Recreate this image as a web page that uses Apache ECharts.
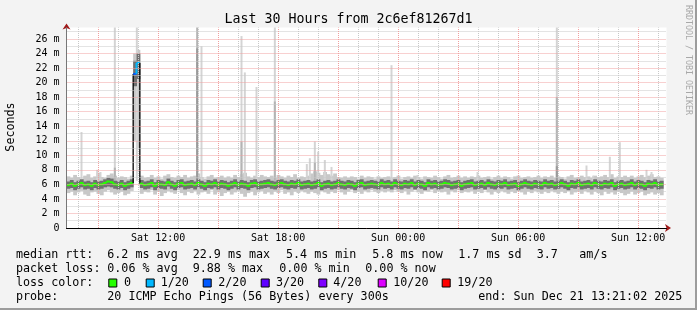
<!DOCTYPE html>
<html><head><meta charset="utf-8">
<script src="https://cdn.jsdelivr.net/npm/echarts@6/dist/echarts.min.js"></script>
<style>html,body{margin:0;padding:0;background:#f3f3f3}#c{width:697px;height:310px}</style>
</head><body><div id="c"></div>
<script>
// ---------- DATA ----------
const START_HOUR = 7 + 25 / 60;   // Sat 07:25 (hours since Sat 00:00)
const STEP_HOUR = 1 / 6;          // 10-minute steps
const SPAN_HOURS = 30;

const medianRtt = [
 5.9,6.1,5.8,6.0,6.2,5.9,6.0,5.8,6.1,5.9,6.0,6.2,
 6.4,6.3,6.0,5.9,6.1,5.8,6.0,6.2,21.2,22.7,6.1,5.9,
 6.0,6.2,5.8,6.1,6.0,5.9,6.3,6.0,5.8,6.1,6.2,5.9,
 6.0,6.1,5.9,6.2,6.0,5.8,6.1,6.0,6.2,5.9,6.1,6.0,
 5.8,6.0,6.2,5.9,6.1,6.0,5.8,6.1,6.2,5.9,6.0,6.1,
 6.2,6.0,5.9,6.1,6.2,6.0,5.9,6.1,6.0,6.2,5.9,6.0,
 6.1,5.9,6.0,6.2,5.8,6.0,6.1,5.9,6.0,6.2,6.0,5.9,
 6.1,6.0,5.8,6.1,6.2,5.9,6.0,6.1,6.0,5.9,6.2,6.0,
 6.1,5.9,6.2,6.0,5.9,6.1,6.0,6.2,5.9,6.1,6.0,5.8,
 6.2,6.0,6.1,5.9,6.0,6.2,6.1,5.9,6.0,6.1,5.8,6.0,
 6.1,6.2,5.9,6.0,6.1,5.9,6.2,6.0,5.9,6.1,6.0,6.2,
 5.9,6.0,6.1,5.8,6.0,6.2,6.0,5.9,6.1,6.0,5.9,6.2,
 6.0,6.1,5.9,6.0,6.2,6.0,5.8,6.1,6.0,6.2,5.9,6.0,
 6.1,5.9,6.2,6.0,5.9,6.1,6.0,6.2,5.8,6.0,6.1,5.9,
 6.0,6.2,5.9,6.1,6.0,5.8,6.1,6.0,6.2,5.9,6.0
];
const lightLo = [
 4.8,5.0,4.5,4.9,5.1,4.6,4.4,4.9,5.0,4.7,4.5,5.0,
 5.2,4.9,4.6,4.8,5.0,4.5,4.7,5.1,12.0,11.0,4.7,5.0,
 4.9,5.2,4.6,5.0,4.4,4.8,5.1,4.9,4.7,5.2,4.8,4.5,
 5.0,4.8,5.1,4.6,4.9,5.0,4.7,5.2,4.6,4.9,4.4,4.8,
 5.0,4.6,4.9,5.1,4.7,4.3,4.8,5.0,4.5,4.9,5.1,4.7,
 4.9,4.6,5.0,4.8,5.2,4.7,4.9,4.5,5.0,4.8,5.1,4.9,
 4.7,5.0,4.8,4.6,5.1,4.9,4.7,5.0,4.8,5.2,4.9,4.6,
 5.0,5.2,4.8,5.0,4.7,5.1,4.9,5.2,5.0,4.8,5.1,4.9,
 5.1,4.9,5.2,5.0,4.8,5.1,4.6,5.0,5.2,4.9,4.7,5.1,
 5.0,5.2,4.8,5.1,4.9,5.0,4.6,5.1,4.9,5.2,4.8,5.0,
 4.9,5.1,4.7,5.0,4.8,5.2,4.9,4.6,5.0,4.8,5.1,4.9,
 4.7,5.0,4.8,5.1,4.9,4.6,5.0,4.8,5.1,4.9,4.7,5.0,
 4.8,5.1,4.9,4.7,5.0,4.8,5.1,4.6,4.9,5.0,4.7,5.1,
 4.9,4.6,5.0,4.8,4.5,5.0,4.7,4.9,4.6,5.0,4.8,4.5,
 4.7,5.0,4.6,4.8,5.0,4.5,4.7,4.9,4.6,4.8,4.5
];
const lightHi = [
 7.1,6.9,7.3,7.0,6.8,7.2,7.4,6.9,7.1,7.6,7.0,6.9,
 7.3,7.5,7.2,6.9,7.1,7.0,6.8,7.2,24.0,24.5,7.2,6.9,
 7.0,7.3,6.9,7.1,6.8,7.2,7.4,7.0,6.9,7.2,7.0,7.3,
 6.9,7.1,7.2,7.5,7.0,6.8,7.1,7.3,6.9,7.0,7.2,6.9,
 7.1,6.9,7.3,7.0,7.4,7.6,7.1,6.9,7.2,7.0,7.3,7.1,
 7.0,7.2,6.9,7.3,7.1,6.9,7.2,7.0,7.4,6.9,7.1,7.0,
 7.2,7.5,7.8,7.6,7.3,7.7,7.4,7.2,7.5,7.0,6.9,7.1,
 6.9,7.1,7.0,6.8,7.2,6.9,7.1,7.0,6.8,7.1,6.9,7.0,
 7.1,6.9,7.0,7.2,6.8,7.0,7.1,6.9,7.2,7.0,6.8,7.1,
 7.0,6.9,7.2,7.0,6.8,7.1,7.3,6.9,7.0,7.2,6.9,7.1,
 6.9,7.1,7.0,7.2,6.9,7.0,7.1,6.8,7.0,7.2,6.9,7.1,
 7.0,6.8,7.1,7.2,6.9,7.0,7.1,6.9,7.0,7.2,6.9,7.1,
 7.0,7.2,6.9,7.1,7.0,6.8,7.1,7.3,6.9,7.0,7.2,7.0,
 7.1,6.9,7.2,7.0,7.1,7.3,7.0,7.4,6.9,7.1,7.0,7.2,
 7.0,7.2,6.9,7.1,7.3,7.0,7.2,7.4,7.0,7.1,6.9
];
const darkLo = [
 5.4,5.5,5.2,5.4,5.6,5.3,5.4,5.2,5.5,5.3,5.4,5.6,
 5.7,5.6,5.4,5.3,5.5,5.2,5.4,5.6,19.5,20.5,5.5,5.3,
 5.4,5.6,5.2,5.5,5.4,5.3,5.7,5.4,5.2,5.5,5.6,5.3,
 5.4,5.5,5.3,5.6,5.4,5.2,5.5,5.4,5.6,5.3,5.5,5.4,
 5.2,5.4,5.6,5.3,5.5,5.4,5.2,5.5,5.6,5.3,5.4,5.5,
 5.6,5.4,5.3,5.5,5.6,5.4,5.3,5.5,5.4,5.6,5.3,5.4,
 5.5,5.3,5.4,5.6,5.2,5.4,5.5,5.3,5.4,5.6,5.4,5.3,
 5.5,5.4,5.2,5.5,5.6,5.3,5.4,5.5,5.4,5.3,5.6,5.4,
 5.5,5.3,5.6,5.4,5.3,5.5,5.4,5.6,5.3,5.5,5.4,5.2,
 5.6,5.4,5.5,5.3,5.4,5.6,5.5,5.3,5.4,5.5,5.2,5.4,
 5.5,5.6,5.3,5.4,5.5,5.3,5.6,5.4,5.3,5.5,5.4,5.6,
 5.3,5.4,5.5,5.2,5.4,5.6,5.4,5.3,5.5,5.4,5.3,5.6,
 5.4,5.5,5.3,5.4,5.6,5.4,5.2,5.5,5.4,5.6,5.3,5.4,
 5.5,5.3,5.6,5.4,5.3,5.5,5.4,5.6,5.2,5.4,5.5,5.3,
 5.4,5.6,5.3,5.5,5.4,5.2,5.5,5.4,5.6,5.3,5.4
];
const darkHi = [
 6.4,6.6,6.3,6.5,6.7,6.4,6.5,6.3,6.6,6.4,6.5,6.7,
 6.9,6.8,6.5,6.4,6.6,6.3,6.5,6.7,23.0,24.0,6.6,6.4,
 6.5,6.7,6.3,6.6,6.5,6.4,6.8,6.5,6.3,6.6,6.7,6.4,
 6.5,6.6,6.4,6.7,6.5,6.3,6.6,6.5,6.7,6.4,6.6,6.5,
 6.3,6.5,6.7,6.4,6.6,6.5,6.3,6.6,6.7,6.4,6.5,6.6,
 6.7,6.5,6.4,6.6,6.7,6.5,6.4,6.6,6.5,6.7,6.4,6.5,
 6.6,6.4,6.5,6.7,6.3,6.5,6.6,6.4,6.5,6.7,6.5,6.4,
 6.6,6.5,6.3,6.6,6.7,6.4,6.5,6.6,6.5,6.4,6.7,6.5,
 6.6,6.4,6.7,6.5,6.4,6.6,6.5,6.7,6.4,6.6,6.5,6.3,
 6.7,6.5,6.6,6.4,6.5,6.7,6.6,6.4,6.5,6.6,6.3,6.5,
 6.6,6.7,6.4,6.5,6.6,6.4,6.7,6.5,6.4,6.6,6.5,6.7,
 6.4,6.5,6.6,6.3,6.5,6.7,6.5,6.4,6.6,6.5,6.4,6.7,
 6.5,6.6,6.4,6.5,6.7,6.5,6.3,6.6,6.5,6.7,6.4,6.5,
 6.6,6.4,6.7,6.5,6.4,6.6,6.5,6.7,6.3,6.5,6.6,6.4,
 6.5,6.7,6.4,6.6,6.5,6.3,6.6,6.5,6.7,6.4,6.5
];
// packet loss (pings lost out of 20) at step indexes
const lossAt = [20, 21];
const lossCount = [2, 1];
// isolated high pings (position in steps, top in ms, shade level)
const spikeAt    = [4.5, 9.2, 10.2, 14.5, 14.5, 21.1, 39.2, 39.2, 40.5, 52.5, 52.5, 53.5, 57.0, 62.5, 62.5, 72.1, 73.0, 74.5, 74.5, 75.5, 77.5, 79.5, 97.5, 105.3, 123.3, 147.1, 147.1, 147.1, 156.0, 158.0, 163.0, 166.0, 174.0, 175.5];
const spikeTop   = [13.2, 8.0, 7.7, 30, 8.3, 30, 30, 24.7, 25.0, 26.4, 11.9, 21.4, 19.4, 30, 17.4, 8.8, 9.6, 11.9, 9.0, 10.5, 9.35, 8.4, 22.4, 7.3, 7.7, 30, 18, 8.5, 8.6, 7.2, 9.8, 11.8, 8.0, 7.7];
const spikeShade = [0, 0, 0, 0, 1, 0, 1, 2, 0, 0, 1, 0, 0, 0, 1, 0, 0, 0, 1, 0, 0, 0, 0, 0, 0, 0, 1, 2, 0, 0, 0, 0, 0, 0];
const SPIKE_BASE = 6.5;

const yTickValues = [0, 2, 4, 6, 8, 10, 12, 14, 16, 18, 20, 22, 24, 26];
const yTickLabels = ['0', '2 m', '4 m', '6 m', '8 m', '10 m', '12 m', '14 m', '16 m', '18 m', '20 m', '22 m', '24 m', '26 m'];
const xTickHours  = [12, 18, 24, 30, 36];
const xTickLabels = ['Sat 12:00', 'Sat 18:00', 'Sun 00:00', 'Sun 06:00', 'Sun 12:00'];

const lossLegendLabels = ['0', '1/20', '2/20', '3/20', '4/20', '10/20', '19/20'];
const lossLegendMin    = [0, 1, 2, 3, 4, 10, 19];
const lossLegendColors = ['#26ff00', '#00b8ff', '#0059ff', '#5e00ff', '#7e00ff', '#dd00ff', '#ff0000'];

const titleText = 'Last 30 Hours from 2c6ef81267d1';
const rttTexts  = ['median rtt:', '6.2 ms avg', '22.9 ms max', '5.4 ms min', '5.8 ms now', '1.7 ms sd', '3.7', 'am/s'];
const lossTexts = ['packet loss:', '0.06 % avg', '9.88 % max', '0.00 % min', '0.00 % now'];
const probeTexts = ['probe:', '20 ICMP Echo Pings (56 Bytes) every 300s', 'end: Sun Dec 21 13:21:02 2025'];

// ---------- LAYOUT ----------
const rttX   = [16, 107.3, 192.7, 286, 372.3, 458.3, 536.7, 579.3];
const lossX  = [16, 107.3, 192.7, 279.3, 365.3];
const probeX = [16, 107.3, 478.3];
const boxX   = [108.3, 145.7, 202.7, 260.7, 318.3, 377.7, 441.7];
const boxLabelX = [124, 160.7, 218.3, 276, 333.3, 393.3, 457.3];
const rowY = [254.5, 268.5, 282.5, 296.5];
const MONO = '"DejaVu Sans Mono", monospace';
const GRID_RED = '#f0a0a0', GRID_GRAY = '#c8c8c8', ARROW = '#a01818';

function lossColor(c) {
  let k = 0;
  for (let j = 0; j < lossLegendMin.length; j++) if (c >= lossLegendMin[j]) k = j;
  return lossLegendColors[k];
}
function stepTime(i) { return START_HOUR + i * STEP_HOUR; }

function bandItem(color) {
  return function (params, api) {
    const t = api.value(0), lo = api.value(1), hi = api.value(2);
    const a = api.coord([t, hi]);
    const b = api.coord([t + STEP_HOUR, lo]);
    const top = Math.max(a[1], params.coordSys.y);
    return { type: 'rect', shape: { x: a[0], y: top, width: b[0] - a[0] + 0.5, height: b[1] - top }, style: { fill: color } };
  };
}
const spikeColors = ['#d4d4d4', '#b4b4b4', '#9a9a9a'];
function spikeItem(params, api) {
  const t = api.value(0), lo = api.value(1), hi = api.value(2), sh = api.value(3);
  const a = api.coord([t, hi]), b = api.coord([t, lo]);
  const top = Math.max(a[1], params.coordSys.y);
  return { type: 'rect', shape: { x: a[0] - 1, y: top, width: 2, height: b[1] - top }, style: { fill: spikeColors[sh] } };
}
function medianItem(params, api) {
  const i = params.dataIndex;
  const t = api.value(0), v = api.value(1), loss = api.value(2);
  const col = lossColor(loss);
  const a = api.coord([t, v]), b = api.coord([t + STEP_HOUR, v]);
  const children = [];
  if (i > 0) {
    const pv = medianRtt[i - 1];
    const q = api.coord([t, pv]);
    const big = Math.abs(pv - v) > 3;
    children.push({ type: 'line', shape: { x1: a[0], y1: q[1], x2: a[0], y2: a[1] }, style: { stroke: big ? '#000' : col, lineWidth: big ? 1.3 : 2 } });
  }
  children.push({ type: 'line', shape: { x1: a[0], y1: a[1], x2: b[0], y2: b[1] }, style: { stroke: col, lineWidth: 2 } });
  return { type: 'group', children };
}

const lightData = lightLo.map((lo, i) => [stepTime(i), lo, lightHi[i]]);
const darkData = darkLo.map((lo, i) => [stepTime(i), lo, darkHi[i]]);
const spikeData = spikeAt.map((s, k) => [stepTime(s), SPIKE_BASE, spikeTop[k], spikeShade[k]]);
const medianData = medianRtt.map((v, i) => { const k = lossAt.indexOf(i); return [stepTime(i), v, k >= 0 ? lossCount[k] : 0]; });

const vLines = [];
for (let h = Math.ceil(START_HOUR); h < START_HOUR + SPAN_HOURS; h++) {
  vLines.push({ xAxis: h, lineStyle: { color: h % 3 === 0 ? GRID_RED : GRID_GRAY, type: [1, 1], width: 1 } });
}
const hColors = [];
for (let n = 0; n <= 27; n++) hColors.push(n % 2 === 0 ? GRID_RED : GRID_GRAY);
hColors.push('rgba(0,0,0,0)');

function txt(x, y, s, font, extra) {
  return Object.assign({ type: 'text', x: x, y: y, silent: true,
    style: { text: s, font: font, fill: '#000', align: 'left', textAlign: 'left', verticalAlign: 'middle', textVerticalAlign: 'middle' } }, extra || {});
}
const F = '11.7px ' + MONO;
const graphics = [];
graphics.push({ type: 'rect', silent: true, shape: { x: 695, y: 0, width: 2, height: 310 }, style: { fill: '#9c9c9c' } });
graphics.push({ type: 'rect', silent: true, shape: { x: 0, y: 308, width: 697, height: 2 }, style: { fill: '#9c9c9c' } });
graphics.push(txt(348.5, 19.5, titleText, '13.3px ' + MONO));
graphics[graphics.length - 1].style.align = 'center'; graphics[graphics.length - 1].style.textAlign = 'center';
const yl = txt(11, 127, 'Seconds', F, { rotation: Math.PI / 2 });
yl.style.align = 'center'; yl.style.textAlign = 'center'; graphics.push(yl);
const wm = txt(688, 60, 'RRDTOOL / TOBI OETIKER', '8.3px ' + MONO, { rotation: -Math.PI / 2 });
wm.style.align = 'center'; wm.style.textAlign = 'center'; wm.style.fill = '#a8a8a8'; graphics.push(wm);
rttTexts.forEach((s, k) => graphics.push(txt(rttX[k], rowY[0], s, F)));
lossTexts.forEach((s, k) => graphics.push(txt(lossX[k], rowY[1], s, F)));
graphics.push(txt(16, rowY[2], 'loss color:', F));
lossLegendLabels.forEach((s, k) => {
  graphics.push({ type: 'rect', silent: true, shape: { x: boxX[k] + 0.5, y: rowY[2] - 3.5, width: 8, height: 8 }, style: { fill: lossLegendColors[k], stroke: '#000', lineWidth: 1 } });
  graphics.push(txt(boxLabelX[k], rowY[2], s, F));
});
probeTexts.forEach((s, k) => graphics.push(txt(probeX[k], rowY[3], s, F)));

const chart = echarts.init(document.getElementById('c'), null, { renderer: 'canvas' });
chart.setOption({
  animation: false,
  backgroundColor: '#f3f3f3',
  grid: { left: 66.5, right: 30.5, top: 27.5, bottom: 82, show: true, backgroundColor: '#ffffff', borderWidth: 0 },
  xAxis: [
    { type: 'value', position: 'bottom', min: START_HOUR, max: START_HOUR + SPAN_HOURS, z: 6,
      axisLine: { show: true, onZero: false, lineStyle: { color: '#000', width: 1 } },
      axisTick: { show: false }, splitLine: { show: false },
      axisLabel: { customValues: xTickHours, margin: 5, color: '#000', fontFamily: MONO, fontSize: 10,
        formatter: v => { const k = xTickHours.indexOf(v); return k >= 0 ? xTickLabels[k] : ''; } } },
    { type: 'value', position: 'bottom', min: START_HOUR, max: START_HOUR + SPAN_HOURS, z: 4,
      axisLine: { show: true, onZero: false, symbol: ['none', 'arrow'], symbolSize: [6, 6], symbolOffset: [0, 4.5], lineStyle: { color: ARROW, width: 1 } },
      axisTick: { show: false }, splitLine: { show: false }, axisLabel: { show: false } }
  ],
  yAxis: [
    { type: 'value', position: 'left', min: 0, max: 27.58, interval: 1, z: 5,
      axisLine: { show: true, onZero: false, lineStyle: { color: '#777', width: 1 } },
      axisTick: { show: false },
      splitLine: { show: true, lineStyle: { color: hColors, type: [1, 1], width: 1 } },
      axisLabel: { margin: 7, color: '#000', fontFamily: MONO, fontSize: 10,
        formatter: v => { const k = yTickValues.indexOf(v); return k >= 0 ? yTickLabels[k] : ''; } } },
    { type: 'value', position: 'left', min: 0, max: 27.58, z: 4,
      axisLine: { show: true, onZero: false, symbol: ['none', 'arrow'], symbolSize: [6, 6], symbolOffset: [0, 4], lineStyle: { color: ARROW, width: 1 } },
      axisTick: { show: false }, splitLine: { show: false }, axisLabel: { show: false } }
  ],
  series: [
    { type: 'custom', name: 'smoke light', z: 2, silent: true, renderItem: bandItem('#c8c8c8'), encode: { x: 0, y: [1, 2] }, data: lightData },
    { type: 'custom', name: 'spikes', z: 2, silent: true, renderItem: spikeItem, encode: { x: 0, y: [1, 2] }, data: spikeData },
    { type: 'custom', name: 'smoke dark', z: 2, silent: true, renderItem: bandItem('#707070'), encode: { x: 0, y: [1, 2] }, data: darkData },
    { type: 'custom', name: 'median', z: 3, silent: true, renderItem: medianItem, encode: { x: 0, y: 1 }, data: medianData },
    { type: 'line', name: 'vgrid', z: 4, silent: true, symbol: 'none', lineStyle: { width: 0 }, data: [[START_HOUR, 0]],
      markLine: { silent: true, symbol: ['none', 'none'], label: { show: false }, animation: false, data: vLines } }
  ],
  graphic: { elements: graphics }
});
</script></body></html>
